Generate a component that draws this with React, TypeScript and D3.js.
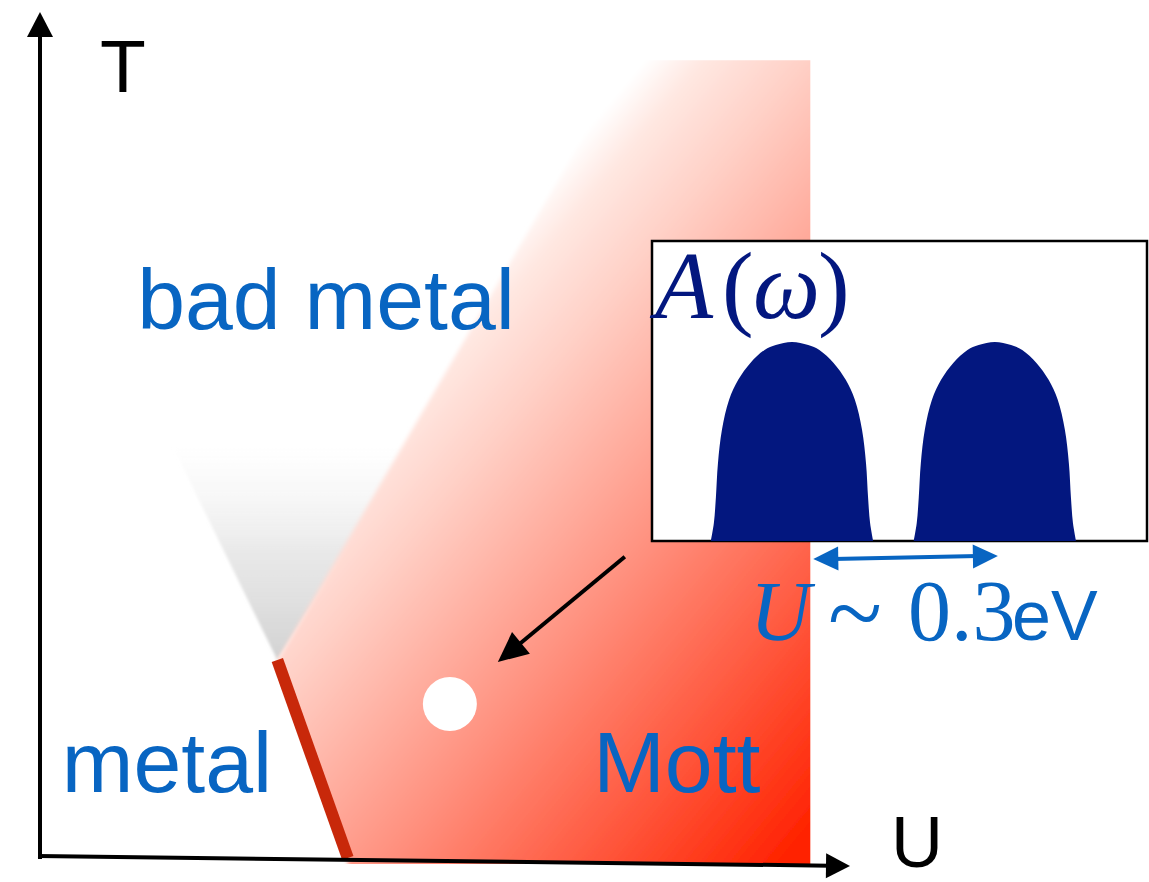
import React from 'react';
import * as d3 from 'd3';

const W = 1149;
const H = 882;

// phase diagram in arbitrary units, U and T both 0..1
const uDomain = [0, 1];
const tDomain = [0, 1];
const critPoint = { u: 0.293, t: 0.234 };
const firstOrderEnd = { u: 0.38, t: 0 };
const crossoverTop = { u: 0.763, t: 0.943 };
const fanLeft = { u: 0.154, t: 0.506 };
const fanRight = { u: 0.51, t: 0.565 };
const mottEdgeU = 0.951;
const mottTopT = 0.943;
const samplePoint = { u: 0.506, t: 0.182 };
const pointerFrom = { u: 0.722, t: 0.356 };

// spectral function of the Mott state (inset), two Hubbard bands
const omegaDomain = [-2.38, 2.5];
const peakCenters = [-1, 1];
const peakLevels = [0, 0.09, 0.22, 0.39, 0.56, 0.71, 0.81, 0.895, 0.96, 0.985, 1];
const peakHalfWidth = [0.8, 0.77, 0.75, 0.73, 0.69, 0.62, 0.53, 0.41, 0.27, 0.16, 0];
const gapArrow = [-0.79, 1.03];

const regionLabels = [
  { text: 'bad metal', u: 0.12, t: 0.625 },
  { text: 'metal', u: 0.027, t: 0.078 },
  { text: 'Mott', u: 0.683, t: 0.078 },
];

const BLUE = '#0865c2';
const NAVY = '#03177f';
const SANS = '"Liberation Sans", Arial, Helvetica, sans-serif';
const SERIF = '"Liberation Serif", "Times New Roman", serif';

const arrowHead = (tip: number[], from: number[], len: number, half: number) => {
  const dx = tip[0] - from[0];
  const dy = tip[1] - from[1];
  const l = Math.hypot(dx, dy);
  const ux = dx / l, uy = dy / l;
  const bx = tip[0] - ux * len, by = tip[1] - uy * len;
  return `${tip[0]},${tip[1]} ${bx - uy * half},${by + ux * half} ${bx + uy * half},${by - ux * half}`;
};

export default function App() {
  const x = d3.scaleLinear().domain(uDomain).range([40, 850]);
  const y = d3.scaleLinear().domain(tDomain).range([858, 12]);

  // inset scales
  const wx = d3.scaleLinear().domain(omegaDomain).range([652, 1147]);
  const ay = d3.scaleLinear().domain([0, 1]).range([541, 342]);

  const pt = (p: { u: number; t: number }) => [x(p.u), y(p.t)];

  const mottPoly = [
    pt(critPoint),
    [x(crossoverTop.u) - 15, y(mottTopT) - 25],
    [x(mottEdgeU) + 20, y(mottTopT) - 25],
    [x(mottEdgeU) + 20, y(0) + 20],
    [x(firstOrderEnd.u), y(0) + 20],
    pt(firstOrderEnd),
  ];

  const fanPoly = [pt(critPoint), pt(fanLeft), pt(fanRight)];

  const peakPath = (c: number) => {
    const left = peakLevels.map((a, i) => [wx(c - peakHalfWidth[i]), ay(a)] as [number, number]);
    const right = peakLevels
      .map((a, i) => [wx(c + peakHalfWidth[i]), ay(a)] as [number, number])
      .reverse();
    return d3.line().curve(d3.curveCatmullRom)([...left, ...right.slice(1)]) + 'Z';
  };

  const tAxisTop = [x(0), y(1)];
  const uStart = [x(0), y(0) - 2];
  const uTip = [x(1), y(0) + 8];
  const uBase = [x(1) - 23, y(0) + 7.7];

  const pFrom = pt(pointerFrom);
  const pTipRaw = pt(samplePoint);
  const pTip = [pTipRaw[0] + 48, pTipRaw[1] - 42];
  const pLen = Math.hypot(pTip[0] - pFrom[0], pTip[1] - pFrom[1]);
  const pLineEnd = [
    pTip[0] - ((pTip[0] - pFrom[0]) / pLen) * 25,
    pTip[1] - ((pTip[1] - pFrom[1]) / pLen) * 25,
  ];

  const gy1 = 559, gy2 = 556;
  const gL = [wx(gapArrow[0]), gy1];
  const gR = [wx(gapArrow[1]), gy2];

  return (
    <svg width={W} height={H} style={{ position: 'absolute', left: 0, top: 0, background: '#fff' }}>
      <defs>
        <linearGradient id="mottGrad" gradientUnits="userSpaceOnUse" x1={410} y1={342} x2={887} y2={740}>
          <stop offset="0" stopColor="#ffffff" />
          <stop offset="0.07" stopColor="#ffe8e2" />
          <stop offset="0.2" stopColor="#ffd0c6" />
          <stop offset="0.5" stopColor="#ff917f" />
          <stop offset="1" stopColor="#ff2200" />
        </linearGradient>
        <linearGradient id="fanGrad" gradientUnits="userSpaceOnUse" x1={0} y1={y(critPoint.t)} x2={0} y2={y(fanLeft.t) + 10}>
          <stop offset="0" stopColor="#d2d2d2" stopOpacity={1} />
          <stop offset="0.5" stopColor="#e4e4e4" stopOpacity={0.8} />
          <stop offset="1" stopColor="#f4f4f4" stopOpacity={0} />
        </linearGradient>
        <filter id="soft" x="-10%" y="-10%" width="120%" height="120%">
          <feGaussianBlur stdDeviation="2" />
        </filter>
        <filter id="softer" x="-10%" y="-10%" width="120%" height="120%">
          <feGaussianBlur stdDeviation="1.5" />
        </filter>
        <clipPath id="mottClip">
          <rect x={0} y={y(mottTopT)} width={x(mottEdgeU)} height={y(0) + 6 - y(mottTopT)} />
        </clipPath>
      </defs>

      {/* crossover fan */}
      <polygon points={fanPoly.map((p) => p.join(',')).join(' ')} fill="url(#fanGrad)" filter="url(#softer)" />

      {/* Mott insulating region */}
      <g clipPath="url(#mottClip)">
        <polygon points={mottPoly.map((p) => p.join(',')).join(' ')} fill="url(#mottGrad)" filter="url(#soft)" />
      </g>

      {/* first order line */}
      <line
        x1={x(critPoint.u)}
        y1={y(critPoint.t)}
        x2={x(firstOrderEnd.u)}
        y2={y(firstOrderEnd.t)}
        stroke="#c8280a"
        strokeWidth={12}
      />

      {/* sample point and pointer to inset */}
      <circle cx={x(samplePoint.u)} cy={y(samplePoint.t)} r={27} fill="#fff" />
      <line x1={pFrom[0]} y1={pFrom[1]} x2={pLineEnd[0]} y2={pLineEnd[1]} stroke="#000" strokeWidth={4} />
      <polygon points={arrowHead(pTip, pFrom, 30, 14)} fill="#000" />

      {/* axes */}
      <line x1={x(0)} y1={y(0) + 1} x2={tAxisTop[0]} y2={tAxisTop[1] + 20} stroke="#000" strokeWidth={4} />
      <polygon points={arrowHead([tAxisTop[0], tAxisTop[1]], [x(0), y(0)], 25, 13)} fill="#000" />
      <line x1={uStart[0] - 2} y1={uStart[1]} x2={uBase[0] + 3} y2={uBase[1]} stroke="#000" strokeWidth={4} />
      <polygon points={arrowHead(uTip, uStart, 24, 12.5)} fill="#000" />
      <text x={100} y={92} fontFamily={SANS} fontSize={75} fill="#000">T</text>
      <text x={891} y={867} fontFamily={SANS} fontSize={72} fill="#000">U</text>

      {/* region labels */}
      {regionLabels.map((d) => (
        <text key={d.text} x={x(d.u)} y={y(d.t)} fontFamily={SANS} fontSize={86} fill={BLUE}>
          {d.text}
        </text>
      ))}

      {/* inset */}
      <rect x={652} y={241} width={495} height={300} fill="#fff" stroke="#000" strokeWidth={2.5} />
      {peakCenters.map((c) => (
        <path key={c} d={peakPath(c)} fill={NAVY} />
      ))}
      <text y={318} fontFamily={SERIF} fontSize={95} fill={NAVY}>
        <tspan x={655} fontStyle="italic">A</tspan>
        <tspan x={722}>(</tspan>
        <tspan x={753} fontStyle="italic">ω</tspan>
        <tspan x={818}>)</tspan>
      </text>

      {/* gap arrow */}
      <line x1={gL[0] + 20} y1={gy1} x2={gR[0] - 20} y2={gy2} stroke={BLUE} strokeWidth={4} />
      <polygon points={arrowHead(gL, gR, 25, 12)} fill={BLUE} />
      <polygon points={arrowHead(gR, gL, 25, 12)} fill={BLUE} />
      <text y={640} fontFamily={SERIF} fontSize={84} fill={BLUE}>
        <tspan x={750} fontStyle="italic">U</tspan>
        <tspan x={828} fontSize={100} dy={6}>~</tspan>
        <tspan x={908} dy={-6} fontSize={86}>0.3</tspan>
        <tspan x={1012} fontFamily={SANS} fontSize={70}>eV</tspan>
      </text>
    </svg>
  );
}
